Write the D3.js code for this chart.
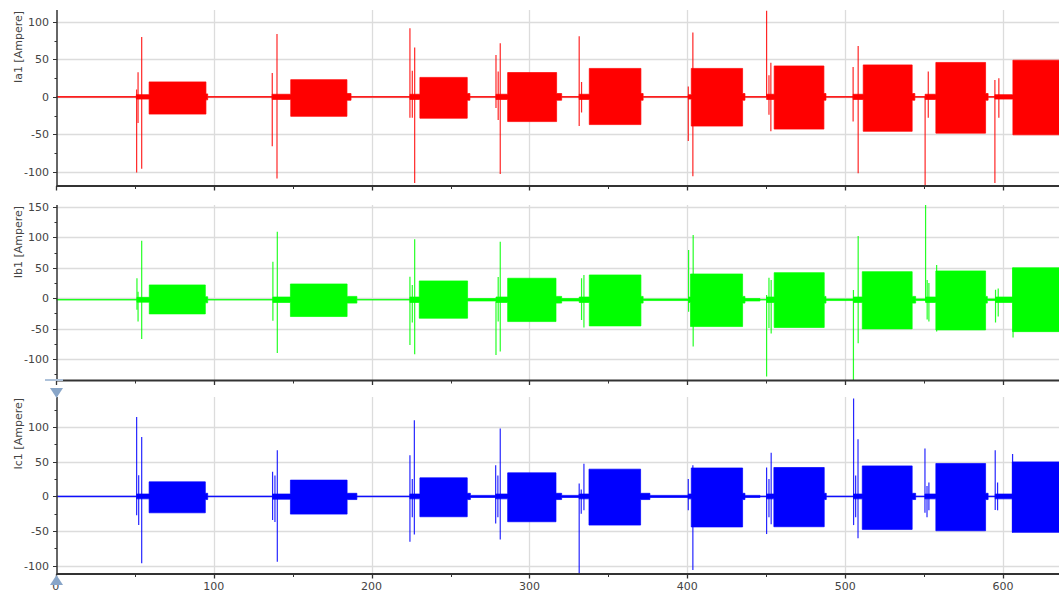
<!DOCTYPE html>
<html><head><meta charset="utf-8">
<script src="https://cdn.jsdelivr.net/npm/d3@7"></script>
<style>
html,body{margin:0;padding:0;background:#fff;}
svg{display:block;font-family:"DejaVu Sans",Verdana,sans-serif;}
</style></head>
<body><svg id="chart" width="1059" height="592"></svg>
<script>
// ---- data: envelopes [time, max, min] and spikes [time, max, min] ----
const xTicks = [0, 100, 200, 300, 400, 500, 600];
const xMinorTicks = [50, 150, 250, 350, 450, 550];

const iaTitle = "Ia1 [Ampere]";
const iaTicks = [-100, -50, 0, 50, 100];
const iaEnvelope = [
  [0, 0.5, -0.5],
  [51, 3, -3], [59.1, 20, -23], [95.1, 4, -4], [96.2, 0.5, -0.5],
  [137, 3.5, -3.5], [148.8, 23, -26], [184.4, 4.5, -4.5], [187, 0.5, -0.5],
  [224.3, 3.5, -3.5], [230.6, 26, -28.5], [260.6, 4.5, -4.5], [262.3, 0.5, -0.5],
  [278.8, 3.5, -3.5], [286.2, 32.5, -33], [317.2, 4.5, -4.5], [320.4, 0.5, -0.5],
  [331.5, 3.5, -3.5], [337.9, 38, -37], [370.6, 4.5, -4.5], [372, 0.5, -0.5],
  [400.6, 3, -3], [402.5, 38, -39], [435, 4.5, -4.5], [436.5, 0.5, -0.5],
  [450.2, 3.5, -3.5], [455, 41.3, -43], [486.5, 4.5, -4.5], [487.8, 0.5, -0.5],
  [505, 3.5, -3.5], [511.4, 42.7, -46], [542.4, 4.5, -4.5], [544.1, 0.5, -0.5],
  [550.6, 3.5, -3.5], [557.4, 46, -48.4], [588.9, 4.5, -4.5], [590.5, 0.5, -0.5],
  [594.8, 3, -3], [606.2, 49, -50.7], [636, 49, -50.7]
];
const iaSpikes = [
  [51.2, 10, -101], [52.1, 33, -35], [54.4, 80, -96],
  [137.1, 32, -66], [140.1, 84, -109],
  [224.3, 91.5, -28], [225.8, 35, -28], [227.3, 66, -115],
  [278.8, 56, -15], [280.2, 34, -31], [281.5, 71.6, -103],
  [331.5, 81, -39], [333, 20, -21],
  [400.6, 14, -59], [403.5, 86, -106],
  [450.2, 115, 0], [451.7, 29, -24], [452.9, 45.7, -46],
  [505, 40, -33], [508.2, 68, -102],
  [550.6, 0, -120], [552.6, 34, -28],
  [594.8, 22.7, -115], [597.3, 25, -28]
];

const ibTitle = "Ib1 [Ampere]";
const ibTicks = [-100, -50, 0, 50, 100, 150];
const ibEnvelope = [
  [0, -2, -3],
  [51.4, 1.5, -6.5], [59.2, 21.8, -25.7], [94.7, 2.5, -7.5], [96.2, -2, -3],
  [137.5, 2, -7], [148.6, 23.4, -30], [184.5, 3, -8], [190.7, -2, -3],
  [224.3, 2, -7], [230.2, 28.4, -32.8], [260.8, -0.5, -4.5],
  [278.8, 2, -7], [286.2, 32.8, -38.3], [316.8, 3, -8], [320.4, -0.5, -4.5],
  [331.5, 2, -7], [337.9, 38.2, -45.4], [370.6, 3, -8], [372, -1.2, -3.8],
  [400.8, 2, -7], [402, 39.8, -46.5], [435, 3, -8], [436.5, -0.5, -4.5], [446, -2, -3],
  [450.2, 2, -7], [455, 42, -48], [486.7, 3, -8], [487.8, -1.2, -3.8],
  [505.2, 2, -7], [510.8, 43.6, -50.3], [542.4, 3, -8], [544.6, -1.2, -3.8],
  [550.9, 2, -7], [557.4, 44.8, -52], [588.9, 3, -8], [590, -1.2, -3.8],
  [595.2, 2, -7], [606, 50, -54.8], [636, 50, -54.8]
];
const ibSpikes = [
  [51.4, 32.8, -19], [52.1, 10.8, -38], [54.4, 94.4, -67],
  [137.5, 60, -37], [140.3, 109, -90],
  [224.3, 35.4, -76.6], [225.8, 21.8, -40], [227.3, 96.7, -91.8],
  [278.8, -5.6, -93], [280.2, 35, -38], [281.5, 92.8, -87.5],
  [333, 32.8, -35.6], [334.5, 38, -48],
  [400.8, 79, -22], [403.7, 103.8, -79],
  [450.2, 5.4, -128.5], [451.7, 33.8, -49], [453.1, 30, -58],
  [505.2, 13.6, -134], [508.2, 102, -74],
  [550.9, 153, -5.5], [551.9, 30, -35], [553, 25, -38], [557.9, 54.6, -54.7],
  [595.2, 14, -40], [596.9, 16, -30], [606.3, 50, -64.6]
];

const icTitle = "Ic1 [Ampere]";
const icTicks = [-100, -50, 0, 50, 100];
const icEnvelope = [
  [0, 0.5, -0.5],
  [51.2, 3.5, -3.5], [59.1, 21, -23.6], [94.7, 4.5, -4.5], [96.2, 0.5, -0.5],
  [137.3, 3.5, -4], [148.6, 23.5, -25.5], [184.5, 4.5, -4.5], [190.7, 0.5, -0.5],
  [224.3, 3.5, -3.5], [230.6, 26.8, -29.3], [260.6, 4.5, -4.5], [262.6, 1.5, -1.5],
  [278.6, 3.5, -3.5], [286.2, 34, -36.5], [316.8, 4.5, -4.5], [320.4, 1.5, -1.5],
  [331.5, 3.5, -3.5], [337.7, 39.3, -41.3], [370.4, 4.5, -4.5], [376.3, 1.5, -1.5],
  [400.6, 3.5, -3.5], [402.5, 41, -44], [435, 4.5, -4.5], [436.5, 1.5, -1.5], [446, 0.5, -0.5],
  [450.2, 3.5, -3.5], [454.8, 41.7, -43.7], [486.7, 4.5, -4.5], [488, 0.5, -0.5],
  [505.3, 3.5, -3.5], [510.8, 44, -47.5], [542.4, 4.5, -4.5], [544.6, 0.5, -0.5],
  [550.5, 3.5, -3.5], [557.4, 47.5, -49.5], [588.9, 4.5, -4.5], [590.5, 0.5, -0.5],
  [595, 3.5, -3.5], [605.8, 49.8, -51.8], [636, 49.8, -51.8]
];
const icSpikes = [
  [51.2, 114.5, -27], [52.5, 30.6, -41], [54.4, 85.8, -96.4],
  [137.3, 35.4, -34], [138.8, 30, -37], [140.3, 66.6, -94],
  [224.3, 59.4, -65.3], [225.8, 25, -30], [227.1, 109.8, -54.7],
  [278.6, 45, -39], [280, 30, -30], [281.5, 97.8, -62],
  [331.5, 18.7, -111], [332.8, 10, -25], [334.5, 47, -20],
  [400.6, 25, -20], [403.5, 45, -106],
  [450.2, 41.7, -54.2], [451.7, 25, -30], [453.1, 62.8, -40],
  [505.3, 141, -41.3], [506.6, 30, -30], [508.1, 82.4, -60.4],
  [550.5, 69, -23.6], [551.8, 15, -30], [553, 20, -20],
  [595, 66.6, -19.7], [596.5, 20, -20], [606, 61, -52]
];

// ---- layout ----
const svg = d3.select("#chart");
const left = 56.5, right = 1059;
const x = d3.scaleLinear().domain([0, 635.4]).range([55.8, 1059]);

const panels = [
  {title: iaTitle, ticks: iaTicks, env: iaEnvelope, spikes: iaSpikes, color: "#ff0000",
   top: 10, bottom: 186, domain: [-119, 116], labels: false},
  {title: ibTitle, ticks: ibTicks, env: ibEnvelope, spikes: ibSpikes, color: "#00ff00",
   top: 205, bottom: 380.5, domain: [-135, 153], labels: false},
  {title: icTitle, ticks: icTicks, env: icEnvelope, spikes: icSpikes, color: "#0000ff",
   top: 397, bottom: 574, domain: [-111.8, 143.3], labels: true}
];

panels.forEach((p, i) => {
  const y = d3.scaleLinear().domain(p.domain).range([p.bottom, p.top]);
  const g = svg.append("g");
  const clipId = "clip" + i;
  svg.append("clipPath").attr("id", clipId).append("rect")
    .attr("x", left).attr("y", p.top).attr("width", right - left).attr("height", p.bottom - p.top);

  // grid
  g.append("g").selectAll("line").data(p.ticks).join("line")
    .attr("x1", left).attr("x2", right)
    .attr("y1", d => Math.round(y(d)) + 0.5).attr("y2", d => Math.round(y(d)) + 0.5)
    .attr("stroke", "#dcdcdc").attr("stroke-width", 1.3);
  g.append("g").selectAll("line").data(xTicks.filter(d => d > 0)).join("line")
    .attr("x1", d => Math.round(x(d)) + 0.5).attr("x2", d => Math.round(x(d)) + 0.5)
    .attr("y1", p.top).attr("y2", p.bottom)
    .attr("stroke", "#dcdcdc").attr("stroke-width", 1.3);

  // signal
  const plot = g.append("g").attr("clip-path", `url(#${clipId})`);
  const area = d3.area().curve(d3.curveStepAfter)
    .x(d => x(d[0])).y0(d => y(d[2])).y1(d => y(d[1]));
  plot.append("path").datum(p.env).attr("d", area)
    .attr("fill", p.color).attr("stroke", p.color).attr("stroke-width", 1)
    .attr("stroke-opacity", 0.7);
  plot.append("g").selectAll("line").data(p.spikes).join("line")
    .attr("x1", d => x(d[0])).attr("x2", d => x(d[0]))
    .attr("y1", d => y(d[1])).attr("y2", d => y(d[2]))
    .attr("stroke", p.color).attr("stroke-width", 1.2).attr("stroke-opacity", 0.85);

  // y axis
  const ya = g.append("g");
  ya.append("line").attr("x1", 57).attr("x2", 57).attr("y1", p.top).attr("y2", p.bottom)
    .attr("stroke", "#333").attr("stroke-width", 1.5);
  const minor = d3.range(Math.ceil(p.domain[0] / 25) * 25, p.domain[1], 25);
  ya.selectAll("line.mt").data(minor).join("line").attr("class", "mt")
    .attr("x1", d => p.ticks.includes(d) ? 53 : 54.5).attr("x2", 57)
    .attr("y1", d => Math.round(y(d)) + 0.5).attr("y2", d => Math.round(y(d)) + 0.5)
    .attr("stroke", "#333").attr("stroke-width", 1);
  ya.selectAll("text").data(p.ticks).join("text")
    .attr("x", 49).attr("y", d => y(d)).attr("dy", "0.35em")
    .attr("text-anchor", "end").attr("font-size", 11).attr("fill", "#444")
    .text(d => d);
  g.append("text").attr("transform", `translate(22,${p.top + 1}) rotate(-90)`)
    .attr("text-anchor", "end").attr("font-size", 11).attr("fill", "#444")
    .text(p.title);

  // x axis
  const xa = g.append("g");
  xa.append("line").attr("x1", left).attr("x2", right).attr("y1", p.bottom).attr("y2", p.bottom)
    .attr("stroke", "#333").attr("stroke-width", 1.8);
  xa.selectAll("line.maj").data(xTicks).join("line").attr("class", "maj")
    .attr("x1", d => Math.round(x(d)) + 0.5).attr("x2", d => Math.round(x(d)) + 0.5)
    .attr("y1", p.bottom).attr("y2", p.bottom + 4.5)
    .attr("stroke", "#333").attr("stroke-width", 1.3);
  xa.selectAll("line.min").data(xMinorTicks).join("line").attr("class", "min")
    .attr("x1", d => Math.round(x(d)) + 0.5).attr("x2", d => Math.round(x(d)) + 0.5)
    .attr("y1", p.bottom).attr("y2", p.bottom + 3)
    .attr("stroke", "#333").attr("stroke-width", 1);
  if (p.labels) {
    xa.selectAll("text").data(xTicks).join("text")
      .attr("x", d => x(d)).attr("y", p.bottom + 16)
      .attr("text-anchor", "middle").attr("font-size", 11).attr("fill", "#444")
      .text(d => d);
  }
});

// range markers
svg.append("path").attr("d", "M50,388 L63,388 L56.5,398 Z").attr("fill", "#88a5c8");
svg.append("path").attr("d", "M50,585 L63,585 L56.5,575 Z").attr("fill", "#88a5c8");
svg.append("rect").attr("x", 45).attr("y", 379).attr("width", 18).attr("height", 2).attr("fill", "#aec2da");
</script></body></html>
